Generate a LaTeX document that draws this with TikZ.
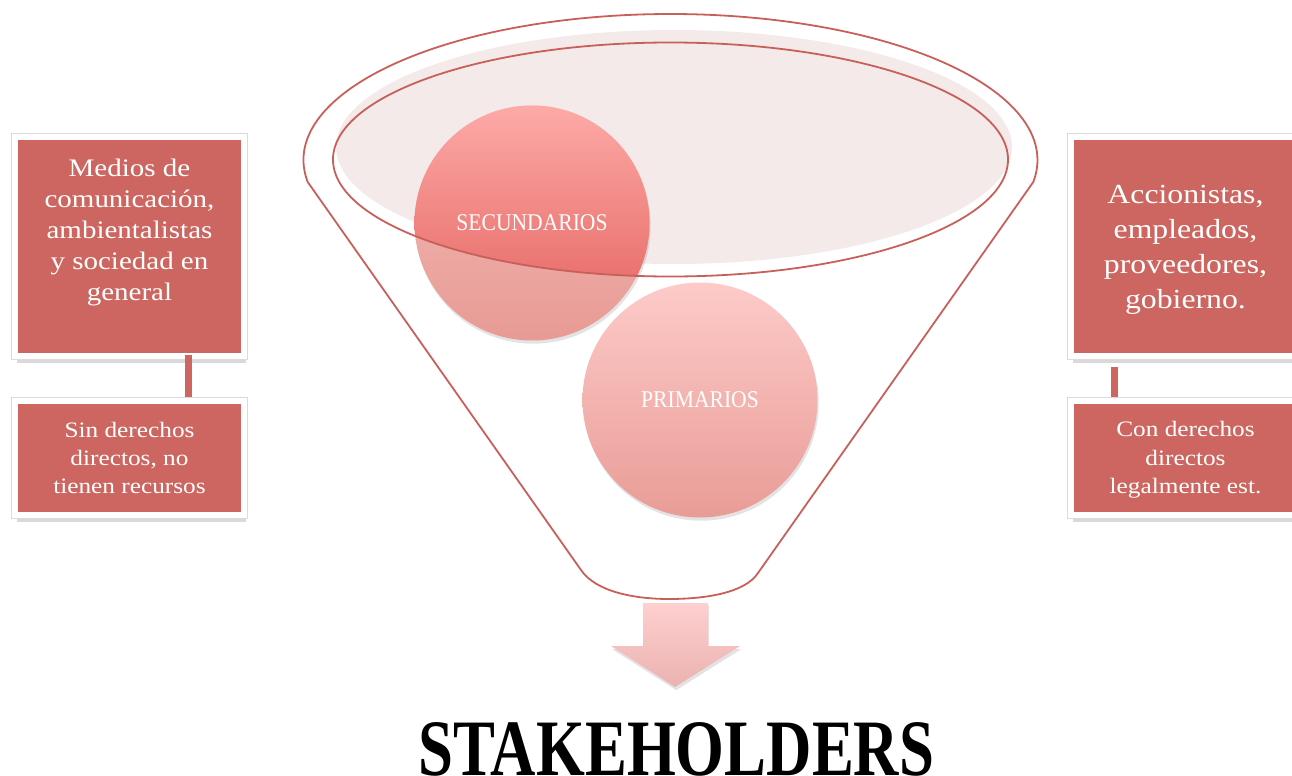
\documentclass[tikz,border=0pt]{standalone}
\usepackage{fontspec}
\setmainfont{Liberation Serif}
\newfontfamily\boxfont[FakeStretch=1.15]{Liberation Serif}
\newfontfamily\circfont[FakeStretch=0.9]{Liberation Serif}
\newfontfamily\titlefont[FakeStretch=0.785]{Liberation Serif}
\usetikzlibrary{shadows,calc}
\definecolor{boxred}{HTML}{CD6660}
\definecolor{funline}{HTML}{C8605A}
\definecolor{ellfill}{HTML}{F4EAEA}
\definecolor{secTop}{HTML}{FDAAA7}
\definecolor{secBot}{HTML}{E25E5A}
\definecolor{fadeTop}{HTML}{F5BEBA}
\definecolor{fadeBot}{HTML}{E89A94}
\definecolor{primTop}{HTML}{FDCBC9}
\definecolor{primBot}{HTML}{E99C96}
\definecolor{arrTop}{HTML}{FDD0CF}
\definecolor{arrBot}{HTML}{EBB2B0}
\begin{document}
\begin{tikzpicture}[x=0.5pt,y=-0.5pt,
  box/.style={rectangle, fill=boxred, draw=white, line width=3.2pt, inner sep=0pt,
    drop shadow={opacity=0.3, shadow xshift=0.8pt, shadow yshift=-3.4pt},
    preaction={draw=black!14, line width=4.4pt}},
  boxtext/.style={text=white, align=center, inner sep=0pt},
  bar/.style={draw=boxred, line width=3.5pt},
  funnel/.style={draw=funline, line width=0.9pt},
  ball/.style={circle, minimum size=117.5pt, inner sep=0pt, text=white,
    font=\circfont\fontsize{12}{14}\selectfont},
  softshadow/.style={drop shadow={opacity=0.22, shadow xshift=0.6pt, shadow yshift=-1.6pt}}
]
\useasboundingbox (0,0) rectangle (1292,776);

% funnel outline
\draw[funnel] (581,570) -- (307.7,182)
  arc[start angle=171.33, end angle=368.67, x radius=367, y radius=146]
  -- (758,573) .. controls (745,593) and (705,599) .. (669,599)
  .. controls (635,599) and (596,592) .. cycle;

% inner ellipse fill
\fill[ellfill] (674,147) ellipse [x radius=338, y radius=117];

% secondary circle (faded part outside ellipse)
\path[top color=fadeTop, bottom color=fadeBot, softshadow] (532,223) circle [radius=117.5];
\begin{scope}
  \clip (670.5,159.5) ellipse [x radius=337.5, y radius=117];
  \path[top color=secTop, bottom color=secBot] (532,223) circle [radius=117.5];
\end{scope}
\node[ball] (SEC) at (532,223) {SECUNDARIOS};

% primary circle
\node[ball, top color=primTop, bottom color=primBot, softshadow] (PRIM) at (700,400) {PRIMARIOS};

% inner ellipse outline
\draw[funnel] (670.5,159.5) ellipse [x radius=337.5, y radius=117];

% arrow
\path[top color=arrTop, bottom color=arrBot, softshadow]
  (643,603) -- (708,603) -- (708,646) -- (740,646) -- (675,687) -- (611,646) -- (643,646) -- cycle;

% boxes
\coordinate (cl) at (188,0);
\coordinate (cr) at (1114,0);
\node[box, minimum width=114.5pt, minimum height=109.5pt] (TL) at (129.5,246.5) {};
\node[box, minimum width=114.5pt, minimum height=109.5pt] (TR) at (1185.5,246.5) {};
\draw[bar] ($(TL.south -| cl)+(0,-4)$) -- ($(TL.south -| cl)+(0,42)$);
\draw[bar] ($(TR.south -| cr)+(0,8)$) -- ($(TR.south -| cr)+(0,44)$);
\node[box, minimum width=114.5pt, minimum height=57pt] (BL) at (129.5,458) {};
\node[box, minimum width=114.5pt, minimum height=57pt] (BR) at (1185.5,458) {};

\node[boxtext, font=\boxfont\fontsize{12.6}{15.5}\selectfont] (TLt) at (129.5,232)
  {Medios de\\comunicación,\\ambientalistas\\y sociedad en\\general};
\node[boxtext, font=\boxfont\fontsize{13.8}{17.6}\selectfont] (TRt) at (1185.5,250)
  {Accionistas,\\empleados,\\proveedores,\\gobierno.};
\node[boxtext, font=\boxfont\fontsize{11}{14.2}\selectfont] (BLt) at (129.5,458)
  {Sin derechos\\directos, no\\tienen recursos};
\node[boxtext, font=\boxfont\fontsize{11}{14.2}\selectfont] (BRt) at (1185.5,460)
  {Con derechos\\directos\\legalmente est.};

% title
\node[font=\titlefont\bfseries\fontsize{40}{46}\selectfont, anchor=base, inner sep=0pt] (T) at (676.5,775) {STAKEHOLDERS};
\end{tikzpicture}
\end{document}
